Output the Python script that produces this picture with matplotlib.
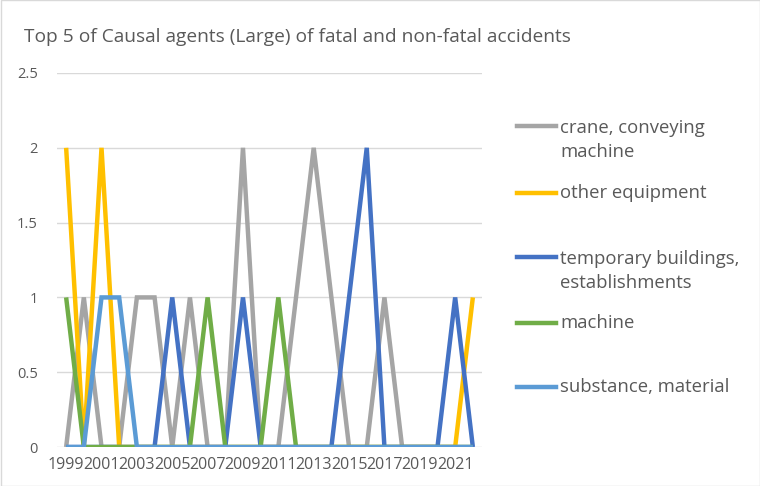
import matplotlib.pyplot as plt
from matplotlib.lines import Line2D
from matplotlib.patches import Rectangle
import numpy as np

years = list(range(1999, 2023))
crane = [0, 1, 0, 0, 1, 1, 0, 1, 0, 0, 2, 0, 0, 1, 2, 1, 0, 0, 1, 0, 0, 0, 0, 0]
other_equipment = [2, 0, 2, 0, 0, 0, 0, 0, 0, 0, 0, 0, 0, 0, 0, 0, 0, 0, 0, 0, 0, 0, 0, 1]
temp_buildings = [0, 0, 0, 0, 0, 0, 1, 0, 0, 0, 1, 0, 0, 0, 0, 0, 1, 2, 0, 0, 0, 0, 1, 0]
machine = [1, 0, 0, 0, 0, 0, 0, 0, 1, 0, 0, 0, 1, 0, 0, 0, 0, 0, 0, 0, 0, 0, 0, 0]
substance = [0, 0, 1, 1, 0, 0, 0, 0, 0, 0, 0, 0, 0, 0, 0, 0, 0, 0, 0, 0, 0, 0, 0, 0]

series = [
    ('crane, conveying\nmachine', crane, '#A5A5A5'),
    ('other equipment', other_equipment, '#FFC000'),
    ('temporary buildings,\nestablishments', temp_buildings, '#4472C4'),
    ('machine', machine, '#70AD47'),
    ('substance, material', substance, '#5B9BD5'),
]

plt.rcParams['font.family'] = ['Open Sans', 'DejaVu Sans']
text_color = '#595959'

fig = plt.figure(figsize=(7.6, 4.86), dpi=100)
ax = fig.add_axes([0.0754, 0.0802, 0.5584, 0.7696])

x = np.arange(len(years))
for name, vals, col in series:
    ax.plot(x, vals, color=col, lw=3.2, solid_joinstyle='miter', solid_capstyle='butt')

ax.set_xlim(-0.5, len(years) - 0.5)
ax.set_ylim(0, 2.5)
ax.set_yticks([0, 0.5, 1, 1.5, 2, 2.5])
ax.set_yticklabels(['0', '0.5', '1', '1.5', '2', '2.5'])
ax.set_xticks(x[::2])
ax.set_xticklabels([str(y) for y in years[::2]])
ax.tick_params(axis='both', length=0, colors=text_color, labelsize=10.5)
ax.tick_params(axis='x', labelsize=11.5, pad=7)
ax.tick_params(axis='y', pad=14)
ax.grid(axis='y', color='#D9D9D9', lw=1)
ax.set_axisbelow(True)
for s in ax.spines.values():
    s.set_visible(False)

fig.text(24 / 760, 1 - 37 / 486, 'Top 5 of Causal agents (Large) of fatal and non-fatal accidents',
         color=text_color, fontsize=13.8, va='center', ha='left')

# legend drawn by hand to mimic Excel spacing
legend_y = [140, 193, 271, 323, 387]
for (name, vals, col), ly in zip(series, legend_y):
    yf = 1 - ly / 486
    if '\n' in name:
        line_y = 1 - (ly - 13.5) / 486
    else:
        line_y = yf
    fig.add_artist(Line2D([517 / 760, 556 / 760], [line_y, line_y], color=col, lw=3.2,
                          transform=fig.transFigure))
    fig.text(560 / 760, yf, name, color=text_color, fontsize=13.3, va='center', ha='left',
             linespacing=1.45)

fig.add_artist(Rectangle((0.5 / 760, 0.5 / 486), 1 - 1 / 760, 1 - 1 / 486, fill=False,
                         edgecolor='#D9D9D9', lw=1, transform=fig.transFigure))

fig.savefig('out.png', dpi=100)
